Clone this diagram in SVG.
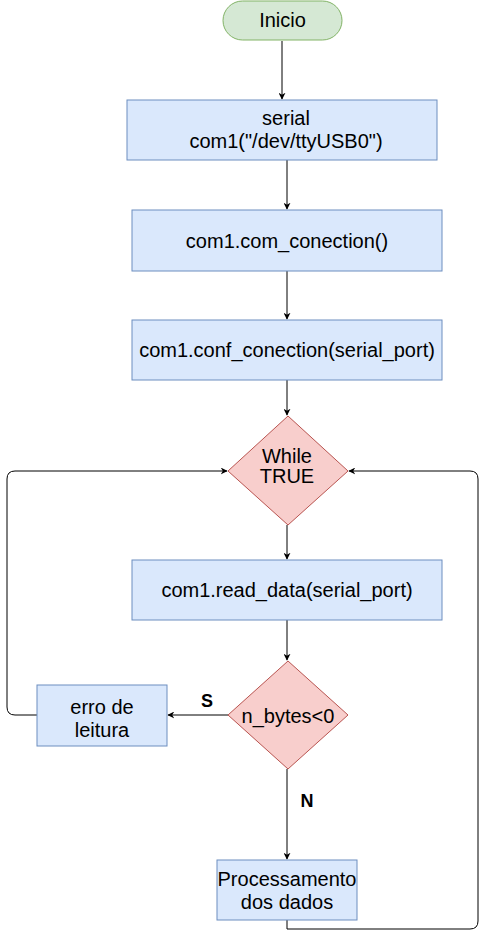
<svg xmlns="http://www.w3.org/2000/svg" width="487" height="940" viewBox="0 0 487 940">
<style>
text{font-family:"Liberation Sans",Arial,sans-serif;font-size:20px;fill:#000;text-anchor:middle}
.g{fill:#d5e8d4;stroke:#82b366}
.b{fill:#dae8fc;stroke:#6c8ebf}
.r{fill:#f8cecc;stroke:#b85450}
.c{fill:none;stroke:#000;stroke-width:1}
.lbl{font-weight:bold;font-size:18px}
</style>
<defs>
<marker id="ah" viewBox="0 0 10 10" refX="9" refY="5" markerWidth="7" markerHeight="7" orient="auto" markerUnits="userSpaceOnUse">
<path d="M0,0 L10,5 L0,10 L3,5 Z" fill="#000"/>
</marker>
</defs>
<rect width="487" height="940" fill="#fff"/>
<g id="connectors">
<path class="c" d="M282,41 V99" marker-end="url(#ah)"/>
<path class="c" d="M287,160 V209" marker-end="url(#ah)"/>
<path class="c" d="M287,271 V319" marker-end="url(#ah)"/>
<path class="c" d="M287,380 V415" marker-end="url(#ah)"/>
<path class="c" d="M287,525 V559" marker-end="url(#ah)"/>
<path class="c" d="M287,620 V660" marker-end="url(#ah)"/>
<path class="c" d="M228,715 H168" marker-end="url(#ah)"/>
<path class="c" d="M287,769 V859" marker-end="url(#ah)"/>
<path class="c" d="M37,715 H15 Q7,715 7,707 V479 Q7,471 15,471 H227" marker-end="url(#ah)"/>
<path class="c" d="M287,920 V929 H470 Q478,929 478,921 V479 Q478,471 470,471 H349" marker-end="url(#ah)"/>
<text class="lbl" x="207" y="707">S</text>
<text class="lbl" x="307" y="807">N</text>
</g>
<g id="inicio">
<rect class="g" x="223" y="1" width="119" height="39" rx="19.5"/>
<text x="282.5" y="27">Inicio</text>
</g>
<g id="serial">
<rect class="b" x="127" y="100" width="310" height="60"/>
<text x="286" y="125">serial</text>
<text x="286" y="148">com1("/dev/ttyUSB0")</text>
</g>
<g id="com_conection">
<rect class="b" x="132" y="210" width="310" height="61"/>
<text x="287" y="248">com1.com_conection()</text>
</g>
<g id="conf_conection">
<rect class="b" x="132" y="320" width="310" height="60"/>
<text x="287" y="357">com1.conf_conection(serial_port)</text>
</g>
<g id="while">
<path class="r" d="M288,416 L348,471 L288,525 L228,471 Z"/>
<text x="287" y="463">While</text>
<text x="287" y="483">TRUE</text>
</g>
<g id="read_data">
<rect class="b" x="132" y="560" width="310" height="60"/>
<text x="287" y="597">com1.read_data(serial_port)</text>
</g>
<g id="n_bytes">
<path class="r" d="M288,661 L348,715 L288,769 L228,715 Z"/>
<text x="288" y="723">n_bytes&lt;0</text>
</g>
<g id="erro">
<rect class="b" x="37" y="685" width="130" height="61"/>
<text x="102" y="714">erro de</text>
<text x="102" y="737">leitura</text>
</g>
<g id="processamento">
<rect class="b" x="217" y="860" width="140" height="60"/>
<text x="287" y="886">Processamento</text>
<text x="287" y="909">dos dados</text>
</g>
</svg>
